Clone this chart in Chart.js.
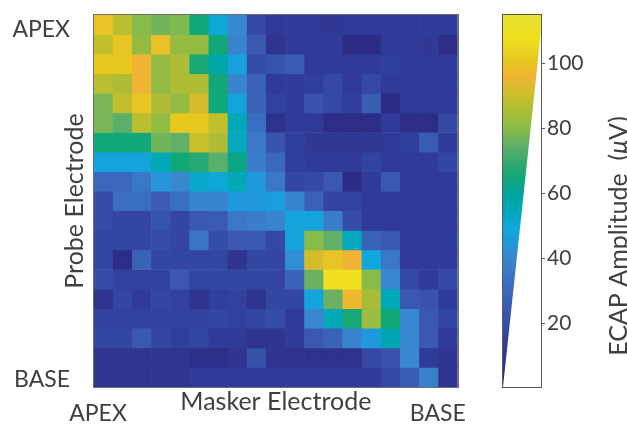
<!DOCTYPE html>
<html>
<head>
<meta charset="utf-8">
<script src="https://cdn.jsdelivr.net/npm/chart.js@4"></script>
<style>
  html, body { margin: 0; padding: 0; background: #fff; }
  #wrap { position: relative; width: 627px; height: 425px; overflow: hidden; }
  #heat { position: absolute; left: 0; top: 0; }
  #cbar { position: absolute; left: 480px; top: 0; }
</style>
</head>
<body>
<div id="wrap">
  <canvas id="heat" width="480" height="425"></canvas>
  <canvas id="cbar" width="147" height="425"></canvas>
</div>
<script>
// ECAP amplitude (uV), one array per probe electrode (apex -> base),
// each entry is one masker electrode (apex -> base)
const probe01 = [100, 88, 80, 77, 79, 65, 50, 41, 18, 12, 13, 12, 11, 12, 12, 12, 12, 13, 12];
const probe02 = [89, 100, 82, 99, 82, 82, 65, 40, 24, 8, 12, 12, 12, 3, 3, 12, 12, 11, 4];
const probe03 = [101, 101, 96, 82, 86, 66, 58, 47, 20, 22, 25, 12, 12, 12, 13, 14, 12, 12, 12];
const probe04 = [88, 86, 96, 82, 86, 86, 65, 40, 28, 12, 13, 14, 18, 12, 18, 12, 12, 12, 12];
const probe05 = [78, 89, 100, 86, 82, 92, 65, 48, 28, 15, 12, 22, 18, 14, 26, 3, 12, 12, 12];
const probe06 = [78, 74, 88, 82, 101, 101, 89, 55, 32, 7, 12, 12, 4, 4, 4, 12, 4, 4, 18];
const probe07 = [65, 65, 65, 77, 75, 90, 86, 54, 35, 22, 14, 11, 11, 11, 11, 12, 14, 25, 12];
const probe08 = [48, 48, 48, 55, 65, 68, 74, 63, 37, 30, 14, 12, 12, 12, 16, 12, 12, 12, 17];
const probe09 = [30, 30, 35, 44, 41, 52, 50, 55, 45, 35, 17, 18, 24, 3, 12, 24, 12, 12, 12];
const probe10 = [20, 32, 32, 25, 32, 40, 40, 45, 45, 46, 40, 28, 16, 16, 12, 12, 12, 12, 12];
const probe11 = [20, 17, 17, 22, 17, 24, 25, 35, 37, 40, 48, 48, 37, 20, 12, 12, 12, 12, 12];
const probe12 = [17, 17, 17, 20, 17, 34, 20, 24, 24, 18, 48, 80, 75, 54, 28, 24, 12, 12, 12];
const probe13 = [17, 4, 28, 17, 17, 17, 17, 8, 17, 17, 42, 92, 100, 96, 49, 35, 12, 12, 12];
const probe14 = [20, 15, 15, 15, 24, 17, 17, 17, 17, 17, 28, 76, 108, 108, 80, 41, 18, 12, 18];
const probe15 = [8, 17, 12, 17, 15, 8, 14, 15, 8, 17, 17, 48, 76, 97, 85, 55, 24, 22, 12];
const probe16 = [15, 15, 15, 15, 15, 15, 17, 15, 17, 20, 12, 41, 55, 66, 83, 65, 41, 24, 17];
const probe17 = [17, 17, 24, 17, 14, 17, 12, 12, 8, 8, 12, 24, 28, 40, 45, 56, 41, 24, 12];
const probe18 = [9, 9, 9, 9, 9, 5, 5, 8, 21, 8, 7, 7, 7, 7, 18, 22, 41, 12, 8];
const probe19 = [9, 9, 9, 9, 9, 12, 12, 12, 12, 12, 12, 12, 12, 12, 12, 18, 26, 38, 8];

const maskerElectrodes = ['1', '2', '3', '4', '5', '6', '7', '8', '9', '10',
  '11', '12', '13', '14', '15', '16', '17', '18', '19'];

// tick labels and where they sit on the 0..19 cell axes
const yTickLabels = ['APEX', 'BASE'];
const yTickPos = [0.77, 18.64];
const xTickLabels = ['APEX', 'BASE'];
const xTickPos = [0.21, 17.96];

// colour bar
const cbarMin = 0.5;
const cbarMax = 115;
const cbarTicks = [20, 40, 60, 80, 100];
const wedgeTop = 110;

// colormap (parula-like, as it looks in the figure)
const cmapValues = [2, 8, 12, 18, 24, 30, 36, 41, 45, 49, 55, 60, 65, 69, 75, 80, 85, 90, 96, 101, 108, 115];
const cmapColors = ['#2c2a84', '#2e3490', '#303a98', '#3448a4', '#3a58b0', '#3a68bc', '#3a7ac8',
  '#3888d0', '#2098dc', '#10a8dc', '#00a8b8', '#02a49c', '#10a878', '#30a870', '#62b068',
  '#88bc48', '#a8bc38', '#c8c02a', '#f0b434', '#e6c820', '#f0e020', '#e6e030'];

const probeRows = [probe01, probe02, probe03, probe04, probe05, probe06, probe07, probe08,
  probe09, probe10, probe11, probe12, probe13, probe14, probe15, probe16, probe17, probe18, probe19];

const textColor = '#404040';
const fontFamily = 'Lato, "Open Sans", sans-serif';

function hexToRgb(h) {
  return [parseInt(h.slice(1, 3), 16), parseInt(h.slice(3, 5), 16), parseInt(h.slice(5, 7), 16)];
}

function colorFor(v) {
  if (v <= cmapValues[0]) return cmapColors[0];
  for (let i = 1; i < cmapValues.length; i++) {
    if (v <= cmapValues[i]) {
      const t = (v - cmapValues[i - 1]) / (cmapValues[i] - cmapValues[i - 1]);
      const a = hexToRgb(cmapColors[i - 1]);
      const b = hexToRgb(cmapColors[i]);
      const c = a.map((ch, k) => Math.round(ch + (b[k] - ch) * t));
      return `rgb(${c[0]},${c[1]},${c[2]})`;
    }
  }
  return cmapColors[cmapColors.length - 1];
}

// thin box round the plot area
const framePlugin = {
  id: 'frame',
  afterDatasetsDraw(chart) {
    const {ctx, chartArea: {left, top, right, bottom}} = chart;
    ctx.save();
    ctx.strokeStyle = '#6e6e6e';
    ctx.lineWidth = 1;
    ctx.strokeRect(Math.round(left) - 0.5, Math.round(top) - 0.5,
      Math.round(right - left) + 1, Math.round(bottom - top) + 1);
    ctx.restore();
  }
};

new Chart(document.getElementById('heat'), {
  type: 'bar',
  data: {
    labels: maskerElectrodes,
    datasets: probeRows.map((row, i) => ({
      label: 'Probe ' + (i + 1),
      data: row.map(() => 1),
      backgroundColor: row.map(colorFor),
      borderWidth: 0,
      categoryPercentage: 1,
      barPercentage: 1,
    }))
  },
  options: {
    responsive: false,
    animation: false,
    events: [],
    layout: {padding: {top: 15, right: 20, left: 0, bottom: 0}},
    plugins: {legend: {display: false}, tooltip: {enabled: false}},
    scales: {
      x: {type: 'category', stacked: true, display: false},
      y: {
        stacked: true, min: 0, max: 19, reverse: true, position: 'left', weight: 0,
        ticks: {display: false},
        grid: {display: false},
        border: {display: false},
        title: {
          display: true, text: 'Probe Electrode', color: textColor,
          font: {family: fontFamily, size: 25}, padding: {top: -10, bottom: 0}
        },
        afterFit: s => { s.width = 24; }
      },
      yl: {
        type: 'linear', min: 0, max: 19, reverse: true, position: 'left', weight: 1,
        grid: {display: false, drawTicks: false},
        border: {display: false},
        afterBuildTicks: s => { s.ticks = yTickPos.map(v => ({value: v})); },
        ticks: {
          callback: (v, i) => yTickLabels[i], padding: 0, color: textColor,
          font: {family: fontFamily, size: 23}
        },
        afterFit: s => { s.width = 70; }
      },
      x2: {
        type: 'linear', min: 0, max: 19, position: 'bottom', offset: false,
        grid: {display: false, drawTicks: false, offset: false},
        border: {display: false},
        afterBuildTicks: s => { s.ticks = xTickPos.map(v => ({value: v})); },
        ticks: {
          callback: (v, i) => xTickLabels[i], padding: 13, color: textColor,
          maxRotation: 0, font: {family: fontFamily, size: 23}
        },
        title: {
          display: true, text: 'Masker Electrode', color: textColor,
          font: {family: fontFamily, size: 25}, padding: {top: 0, bottom: 8}
        },
        afterFit: s => { s.height = 38; }
      }
    }
  },
  plugins: [framePlugin]
});

// colour bar: gradient behind the white wedge
const gradientPlugin = {
  id: 'cbarGradient',
  beforeDatasetsDraw(chart) {
    const {ctx, chartArea: {left, top, right, bottom}, scales: {y}} = chart;
    const g = ctx.createLinearGradient(0, y.getPixelForValue(cbarMin), 0, y.getPixelForValue(cbarMax));
    cmapValues.forEach((v, i) => g.addColorStop((v - cbarMin) / (cbarMax - cbarMin), cmapColors[i]));
    ctx.save();
    ctx.fillStyle = g;
    ctx.fillRect(left, top, right - left, bottom - top);
    ctx.restore();
  },
  afterDatasetsDraw(chart) {
    const {ctx, chartArea: {left, top, right, bottom}} = chart;
    ctx.save();
    ctx.strokeStyle = '#5a5a5a';
    ctx.lineWidth = 1;
    ctx.strokeRect(Math.round(left) - 0.5, Math.round(top) - 0.5,
      Math.round(right - left) + 1, Math.round(bottom - top) + 1);
    ctx.restore();
  }
};

// colour bar title, reading bottom to top, with an italic mu
const cbarTitlePlugin = {
  id: 'cbarTitle',
  afterDraw(chart) {
    const {ctx} = chart;
    const parts = [
      {text: 'ECAP Amplitude  (', font: `25px ${fontFamily}`},
      {text: '\u03bc', font: `italic 25px ${fontFamily}`},
      {text: 'V)', font: `25px ${fontFamily}`},
    ];
    ctx.save();
    let total = 0;
    parts.forEach(p => { ctx.font = p.font; p.w = ctx.measureText(p.text).width; total += p.w; });
    ctx.translate(139, 236);
    ctx.rotate(-Math.PI / 2);
    ctx.fillStyle = textColor;
    ctx.textBaseline = 'middle';
    let x = -total / 2;
    parts.forEach(p => { ctx.font = p.font; ctx.fillText(p.text, x, 0); x += p.w; });
    ctx.restore();
  }
};

new Chart(document.getElementById('cbar'), {
  type: 'line',
  data: {
    datasets: [{
      label: 'wedge',
      data: [{x: 0, y: cbarMin}, {x: 1, y: wedgeTop}],
      fill: 'start',
      backgroundColor: '#ffffff',
      borderWidth: 0,
      pointRadius: 0,
    }]
  },
  options: {
    responsive: false,
    animation: false,
    events: [],
    layout: {padding: {left: 23, top: 15, bottom: 38, right: 0}},
    plugins: {legend: {display: false}, tooltip: {enabled: false}},
    scales: {
      x: {type: 'linear', min: 0, max: 1, display: false},
      y: {
        type: 'linear', position: 'right', min: cbarMin, max: cbarMax,
        afterBuildTicks: s => { s.ticks = cbarTicks.map(v => ({value: v})); },
        grid: {display: true, drawOnChartArea: false, drawTicks: true, tickLength: 4, color: '#5a5a5a'},
        border: {display: false},
        ticks: {padding: 2, color: textColor, font: {family: fontFamily, size: 21}},
        afterFit: s => { s.width = 86; }
      }
    }
  },
  plugins: [gradientPlugin, cbarTitlePlugin]
});
</script>
</body>
</html>
